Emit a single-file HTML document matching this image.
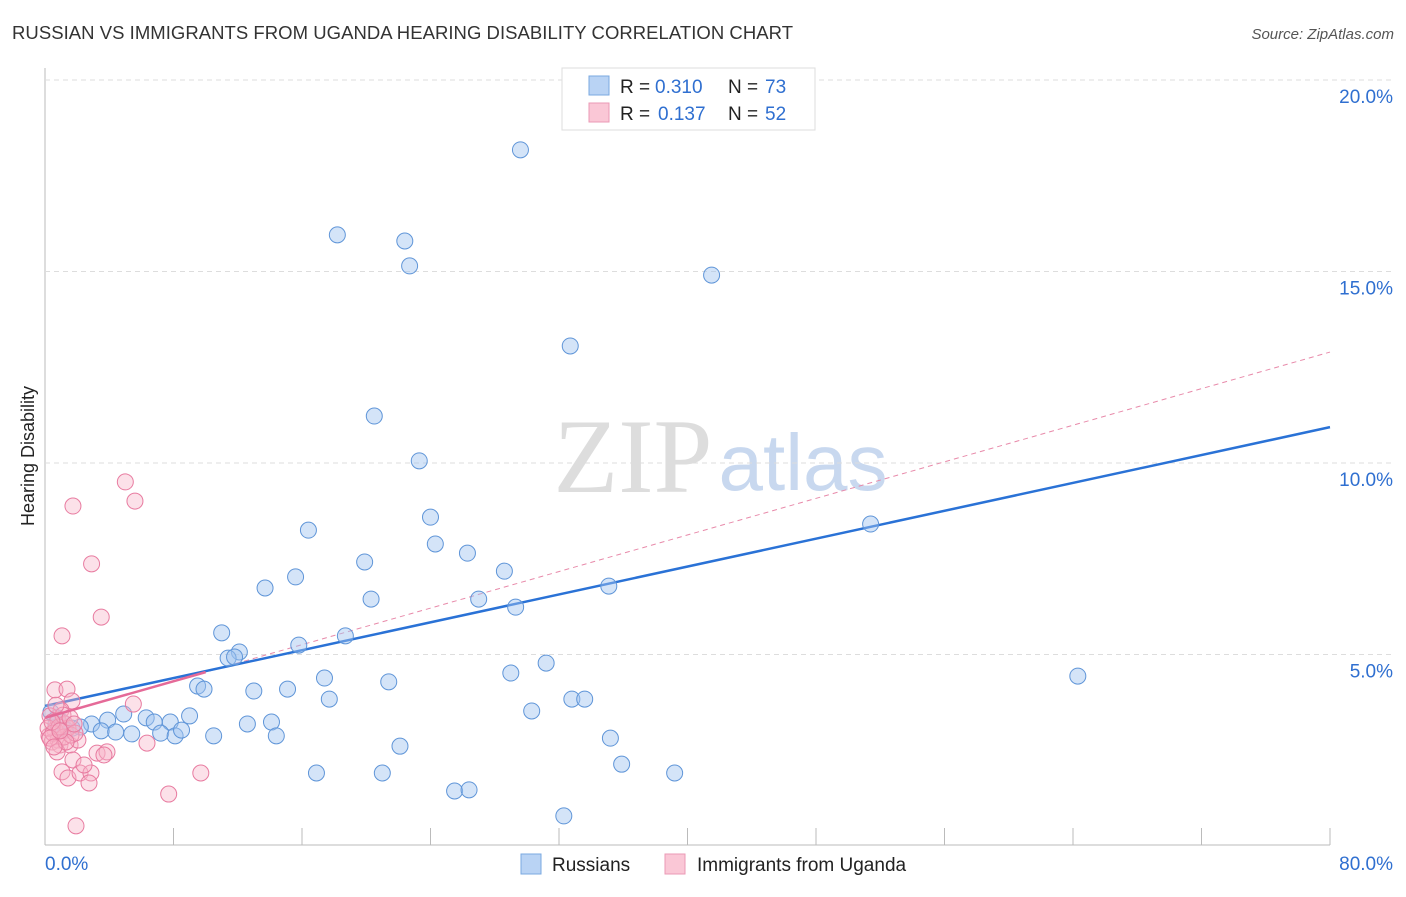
<!DOCTYPE html>
<html><head><meta charset="utf-8"><style>
body{margin:0;background:#fff;width:1406px;height:892px;overflow:hidden;font-family:"Liberation Sans",sans-serif}
</style></head><body>
<svg id="c" width="1406" height="892" xmlns="http://www.w3.org/2000/svg">
<text x="12" y="39" font-size="18.5" fill="#333" textLength="781">RUSSIAN VS IMMIGRANTS FROM UGANDA HEARING DISABILITY CORRELATION CHART</text>
<text x="1394" y="39" font-size="15" fill="#555" font-style="italic" text-anchor="end">Source: ZipAtlas.com</text>
<g>
<text x="633" y="492" font-size="106" fill="#ddd" font-family="Liberation Serif,serif" text-anchor="middle">ZIP</text>
<text x="803" y="490" font-size="80" fill="#c8d8ef" text-anchor="middle">atlas</text>
</g>
<text transform="translate(34,456) rotate(-90)" font-size="18" fill="#222" text-anchor="middle">Hearing Disability</text>
<g id="grid"></g><g id="lines"></g><g id="pts"></g>
<g>
<rect x="562" y="68" width="253" height="62" fill="#fff" stroke="#ddd"/>
<rect x="589" y="76" width="20" height="19" fill="#b9d3f4" stroke="#7aa8e0"/>
<rect x="589" y="103" width="20" height="19" fill="#fac7d6" stroke="#eb9ab5"/>
<text x="620" y="93" font-size="19" fill="#222">R =</text>
<text x="655" y="93" font-size="19" fill="#2f6fd0">0.310</text>
<text x="728" y="93" font-size="19" fill="#222">N =</text>
<text x="765" y="93" font-size="19" fill="#2f6fd0">73</text>
<text x="620" y="120" font-size="19" fill="#222">R =</text>
<text x="658" y="120" font-size="19" fill="#2f6fd0">0.137</text>
<text x="728" y="120" font-size="19" fill="#222">N =</text>
<text x="765" y="120" font-size="19" fill="#2f6fd0">52</text>
</g>
<g>
<rect x="521" y="854" width="20" height="20" fill="#b9d3f4" stroke="#7aa8e0"/>
<text x="552" y="871" font-size="19" fill="#222">Russians</text>
<rect x="665" y="854" width="20" height="20" fill="#fac7d6" stroke="#eb9ab5"/>
<text x="697" y="871" font-size="19" fill="#222">Immigrants from Uganda</text>
</g>
</svg>
<script>
const yTicks=[5,10,15,20];
const yTickLabels=["5.0%","10.0%","15.0%","20.0%"];
const xTicks=[0,8,16,24,32,40,48,56,64,72,80];
const blueX=[29.6,18.2,22.4,22.7,41.5,32.7,20.5,23.3,24.0,16.4,51.4,24.3,26.3,19.9,28.6,15.6,13.7,35.1,20.3,27.0,29.3,11.0,18.7,15.8,12.1,11.4,11.8,31.2,17.4,29.0,64.3,21.4,9.5,9.9,13.0,15.1,17.7,32.8,33.6,30.3,4.9,9.0,6.3,3.9,6.8,7.8,2.9,0.75,1.06,1.68,3.5,4.4,5.4,7.2,8.1,8.5,12.6,14.1,14.4,10.5,35.2,22.1,35.9,16.9,21.0,39.2,25.5,26.4,32.3,0.37,0.68,1.3,2.2];
const blueY=[18.15,15.93,15.77,15.12,14.88,13.03,11.2,10.03,8.56,8.22,8.38,7.86,7.62,7.39,7.15,7.0,6.71,6.76,6.42,6.42,6.21,5.54,5.46,5.22,5.04,4.88,4.91,4.75,4.36,4.49,4.41,4.26,4.15,4.07,4.02,4.07,3.81,3.81,3.81,3.5,3.42,3.37,3.32,3.26,3.21,3.21,3.16,3.32,3.21,3.05,2.98,2.95,2.9,2.92,2.85,3.0,3.16,3.21,2.85,2.85,2.79,2.58,2.11,1.88,1.88,1.88,1.41,1.44,0.76,3.47,3.16,3.0,3.08];
const pinkX=[5.0,1.74,5.6,2.9,3.5,1.06,0.62,1.37,1.68,5.5,1.0,0.31,0.81,1.25,0.62,1.43,0.25,0.81,0.44,0.93,1.56,2.05,6.35,3.24,3.86,3.67,0.75,1.74,1.06,1.43,2.18,2.86,2.74,9.7,7.7,1.93,0.19,0.5,1.18,1.62,1.87,0.87,0.31,1.31,2.43,1.12,0.68,1.56,0.44,0.93,1.81,0.56];
const pinkY=[9.48,8.85,8.98,7.34,5.95,5.46,4.05,4.07,3.76,3.68,3.52,3.37,3.26,3.16,3.0,3.05,2.85,2.74,2.69,2.61,2.61,2.74,2.66,2.4,2.43,2.35,2.43,2.22,1.91,1.75,1.88,1.88,1.62,1.88,1.33,0.5,3.05,2.92,2.82,2.87,2.92,3.08,2.79,2.69,2.09,3.39,3.65,3.32,3.21,2.98,3.16,2.56];
const blueTrend=[3.63,10.91];
const pinkTrend=[3.32,12.87];
const pinkSolidEnd=10;
const X=v=>45+v*(1285/80), Y=v=>845-v*38.3;
const NS="http://www.w3.org/2000/svg";
function mk(p,t,a){const e=document.createElementNS(NS,t);for(const k in a)e.setAttribute(k,a[k]);document.getElementById(p).appendChild(e);return e;}
let e=mk('grid','line',{x1:45,x2:45,y1:68,y2:845,stroke:'#bbb'});


e=mk('grid','line',{x1:45,x2:1330,y1:845,y2:845,stroke:'#bbb'});


yTicks.forEach((t,i)=>{
 const g=mk('grid','line',{x1:45,x2:1394,y1:Y(t)+1,y2:Y(t)+1,stroke:'#ddd','stroke-dasharray':'5,4'});
 
 
 const l=mk('grid','text',{x:1393,y:Y(t)+24,'font-size':19,fill:'#2f6fd0','text-anchor':'end'});l.textContent=yTickLabels[i];
 
 
});
xTicks.forEach(t=>{
 const l=mk('grid','line',{x1:X(t),x2:X(t),y1:828,y2:845,stroke:'#bbb'});
 
 
});
e=mk('grid','text',{x:45,y:870,'font-size':19,fill:'#2f6fd0'});e.textContent='0.0%';


e=mk('grid','text',{x:1393,y:870,'font-size':19,fill:'#2f6fd0','text-anchor':'end'});e.textContent='80.0%';


blueX.forEach((x,i)=>{const c=mk('pts','circle',{cx:X(x),cy:Y(blueY[i]),r:8,fill:'rgba(160,196,240,0.45)',stroke:'#5f95d8','stroke-width':1});
 
 });
pinkX.forEach((x,i)=>{const c=mk('pts','circle',{cx:X(x),cy:Y(pinkY[i]),r:8,fill:'rgba(248,180,200,0.4)',stroke:'#e87ba0','stroke-width':1});
 
 });
const pt=x=>pinkTrend[0]+(pinkTrend[1]-pinkTrend[0])*x/80;
e=mk('lines','line',{x1:X(0),y1:Y(pinkTrend[0]),x2:X(80),y2:Y(pinkTrend[1]),stroke:'#e88aaa','stroke-dasharray':'5,4','stroke-width':1});


e=mk('lines','line',{x1:X(0),y1:Y(blueTrend[0]),x2:X(80),y2:Y(blueTrend[1]),stroke:'#2a72d6','stroke-width':2.5});


e=mk('pts','line',{x1:X(0),y1:Y(pinkTrend[0]),x2:X(pinkSolidEnd),y2:Y(pt(pinkSolidEnd)),stroke:'#e56a98','stroke-width':2.5});


</script>
</body></html>
